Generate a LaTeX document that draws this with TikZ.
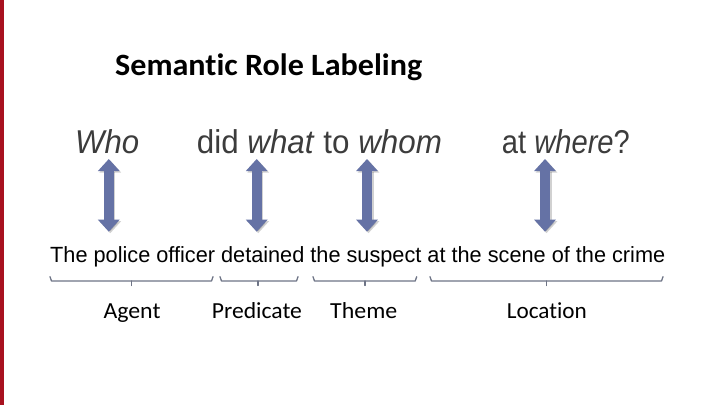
\documentclass[tikz,border=0pt]{standalone}
\usepackage{fontspec}
\setmainfont{Liberation Sans}
\newfontfamily\calibri{Carlito}
\newfontfamily\calibrinolig[Ligatures=NoCommon]{Carlito}
\usetikzlibrary{arrows.meta}
\definecolor{barred}{HTML}{A8111F}
\definecolor{arrowblue}{HTML}{6572A5}
\definecolor{bracegray}{HTML}{6E7486}
\definecolor{qgray}{HTML}{3C3C3C}
\begin{document}
\begin{tikzpicture}[x=1pt,y=-1pt,
 titletext/.style={anchor=base west, inner sep=0pt, font=\calibrinolig\bfseries\fontsize{31}{31}\selectfont},
 question/.style={anchor=base west, inner sep=0pt, text=qgray, font=\fontsize{33}{33}\selectfont},
 sentence/.style={anchor=base west, inner sep=0pt, font=\fontsize{22}{22}\selectfont},
 role/.style={anchor=base west, inner sep=0pt, font=\calibrinolig\fontsize{23}{23}\selectfont},
 dblarrow/.style={line width=10pt, draw=arrowblue, {Triangle[width=21pt,length=12pt]}-{Triangle[width=21pt,length=12pt]}},
 arrowshadow/.style={line width=10pt, draw=black, opacity=0.18, {Triangle[width=21pt,length=12pt]}-{Triangle[width=21pt,length=12pt]}},
 bracepath/.style={draw=bracegray, line width=1.3pt, line cap=round, line join=round}
]
\useasboundingbox (0,0) rectangle (720,405);
\fill[white] (0,0) rectangle (720,405);
\fill[barred] (0,0) rectangle (4,405);

% title
\node[titletext] (title) at (115,75) {\resizebox{307pt}{\height}{Semantic Role Labeling}};

% question line
\node[question] (who) at (75,153.3) {\resizebox{64pt}{\height}{\itshape Who}};
\node[question] (what) at (196.7,153.3) {\resizebox{245pt}{\height}{did \textit{what} to \textit{whom}}};
\node[question] (where) at (501.7,153.3) {\resizebox{128pt}{\height}{at \textit{where}?}};

% sentence
\node[sentence] (sent) at (50,262) {\resizebox{615pt}{\height}{The police officer detained the suspect at the scene of the crime}};

% arrow end points
\coordinate (a1t) at (108.8,159);   \coordinate (a1b) at (108.8,231.7);
\coordinate (a2t) at (256.7,159);   \coordinate (a2b) at (256.7,231.7);
\coordinate (a3t) at (367,159);     \coordinate (a3b) at (367,231.7);
\coordinate (a4t) at (545,159);     \coordinate (a4b) at (545,231.7);

\foreach \t/\b in {a1t/a1b,a2t/a2b,a3t/a3b,a4t/a4b}{
  \draw[arrowshadow, transform canvas={xshift=1.5pt,yshift=-1.5pt}] (\t) -- (\b);
  \draw[dblarrow] (\t) -- (\b);
}

% braces
\foreach \xa/\xm/\xb in {50/131.7/213, 220/258/298, 313/365/416.7, 430/546.7/663}{
  \draw[bracepath] (\xa,276.7) -- (\xa+1.5,281) -- (\xb-1.5,281) -- (\xb,276.7);
  \draw[bracepath] (\xm,281) -- (\xm,285.5);
}

% role labels
\node[role] (agent) at (103.3,318) {\resizebox{57pt}{\height}{Agent}};
\node[role] (pred) at (211.7,318) {\resizebox{90pt}{\height}{Predicate}};
\node[role] (theme) at (330,318) {\resizebox{67pt}{\height}{Theme}};
\node[role] (loc) at (506.7,318) {\resizebox{80pt}{\height}{Location}};
\end{tikzpicture}
\end{document}
